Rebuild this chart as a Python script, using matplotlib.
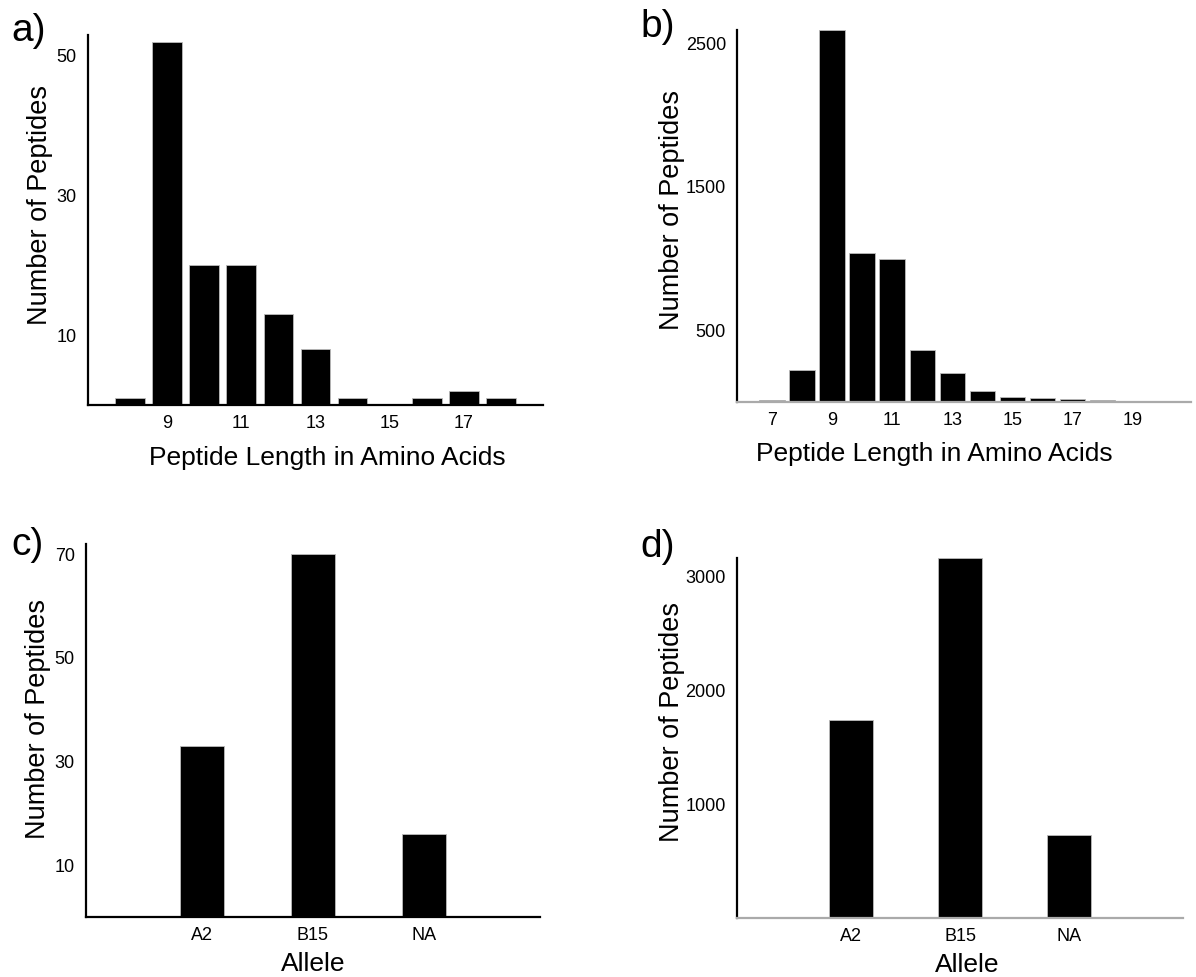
import matplotlib
matplotlib.use("Agg")
import matplotlib.pyplot as plt

plt.rcParams['font.family'] = ['Liberation Sans', 'DejaVu Sans']

# Data
len_a = [8, 9, 10, 11, 12, 13, 14, 15, 16, 17, 18]
cnt_a = [1, 52, 20, 20, 13, 8, 1, 0, 1, 2, 1]
len_b = [7, 8, 9, 10, 11, 12, 13, 14, 15, 16, 17, 18, 19, 20]
cnt_b = [15, 222, 2595, 1042, 997, 362, 205, 80, 33, 28, 20, 15, 6, 6]
alleles = ["A2", "B15", "NA"]
cnt_c = [33, 70, 16]
cnt_d = [1740, 3160, 725]

xt_a = [9, 11, 13, 15, 17]
xt_b = [7, 9, 11, 13, 15, 17, 19]
yt_a = [10, 30, 50]
yt_b = [500, 1500, 2500]
yt_c = [10, 30, 50, 70]
yt_d = [1000, 2000, 3000]

W, H = 1196, 977
fig = plt.figure(figsize=(W / 100, H / 100), dpi=100)

def add_ax(l, r, t, b):
    ax = fig.add_axes([l / W, 1 - b / H, (r - l) / W, (b - t) / H])
    ax._px = (l, r, t, b)
    return ax

ax_a = add_ax(88, 543, 35, 405)
ax_b = add_ax(737, 1191, 30, 402)
ax_c = add_ax(86, 540, 544, 917)
ax_d = add_ax(737, 1183, 558, 918)

def style(ax, bottom_color='black'):
    for s in ['top', 'right']:
        ax.spines[s].set_visible(False)
    ax.spines['left'].set_linewidth(1.6)
    ax.spines['left'].set_color('black')
    ax.spines['bottom'].set_linewidth(1.6)
    ax.spines['bottom'].set_color(bottom_color)
    ax.tick_params(axis='both', length=0, labelsize=13, colors='black')
    ax.tick_params(axis='x', pad=7)
    ax.tick_params(axis='y', pad=8)

def labels(ax, xl, xcx, xby, ycx, ycy):
    l, r, t, b = ax._px
    ax.set_xlabel(xl, fontsize=19)
    ax.xaxis.label.set_va('baseline')
    ax.xaxis.set_label_coords((xcx - l) / (r - l), (b - xby) / (b - t))
    ax.set_ylabel("Number of Peptides", fontsize=19.5)
    ax.yaxis.label.set_va('center')
    ax.yaxis.set_label_coords((ycx - l) / (r - l), (b - ycy) / (b - t))

# a
ax_a.bar(len_a, cnt_a, width=0.8, color='black', edgecolor='#bbbbbb', linewidth=0.6)
ax_a.set_xlim(6.87, 19.13)
ax_a.set_ylim(0, 53)
ax_a.set_xticks(xt_a)
ax_a.set_yticks(yt_a)
style(ax_a)
labels(ax_a, "Peptide Length in Amino Acids", 327, 465, 40, 205)

# b
ax_b.bar(len_b, cnt_b, width=0.85, color='black', edgecolor='#bbbbbb', linewidth=0.6)
ax_b.set_xlim(5.83, 20.95)
ax_b.set_ylim(0, 2595)
ax_b.set_xticks(xt_b)
ax_b.set_yticks(yt_b)
style(ax_b, bottom_color='#aaaaaa')
labels(ax_b, "Peptide Length in Amino Acids", 934, 461, 672, 210)

# c
xc = [1, 2, 3]
ax_c.bar(xc, cnt_c, width=0.4, color='black', edgecolor='#bbbbbb', linewidth=0.6)
ax_c.set_xlim(-0.05, 4.05)
ax_c.set_ylim(0, 72)
ax_c.set_xticks(xc)
ax_c.set_xticklabels(alleles)
ax_c.set_yticks(yt_c)
style(ax_c)
labels(ax_c, "Allele", 313, 971, 38, 719)

# d
ax_d.bar(xc, cnt_d, width=0.4, color='black', edgecolor='#bbbbbb', linewidth=0.6)
ax_d.set_xlim(-0.05, 4.05)
ax_d.set_ylim(0, 3160)
ax_d.set_xticks(xc)
ax_d.set_xticklabels(alleles)
ax_d.set_yticks(yt_d)
style(ax_d, bottom_color='#aaaaaa')
labels(ax_d, "Allele", 967, 972, 672, 722)

# panel letters
for lab, x, y in [("a)", 11, 41), ("b)", 640, 37), ("c)", 11, 555), ("d)", 640, 557)]:
    fig.text(x / W, 1 - y / H, lab, fontsize=28, ha='left', va='baseline')

fig.savefig("out.png", dpi=100)
